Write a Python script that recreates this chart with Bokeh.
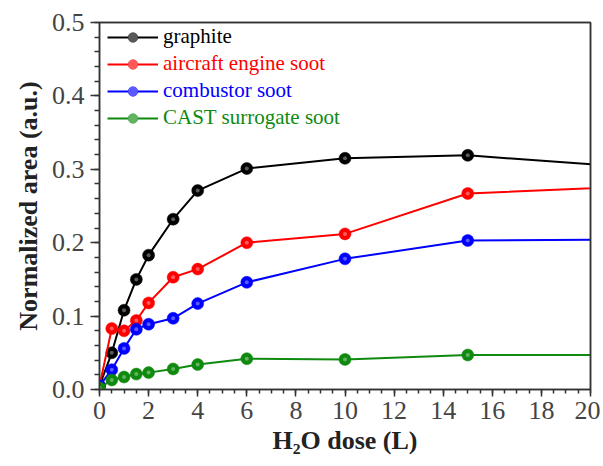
from bokeh.plotting import figure
from bokeh.models import (Range1d, Legend, LegendItem, PrintfTickFormatter, LinearAxis,
                          SingleIntervalTicker, Title)
from bokeh.embed import file_html
from bokeh.resources import INLINE

# H2O dose (L); the last point lies beyond the visible axis range (line runs off-frame)
dose = [0, 0.5, 1, 1.5, 2, 3, 4, 6, 10, 15, 30]
graphite = [0.005, 0.050, 0.108, 0.150, 0.183, 0.232, 0.271, 0.301, 0.315, 0.319, 0.283]
aircraft = [0.005, 0.083, 0.080, 0.094, 0.118, 0.153, 0.164, 0.200, 0.212, 0.267, 0.288]
combustor = [0.005, 0.027, 0.056, 0.082, 0.089, 0.097, 0.117, 0.146, 0.178, 0.203, 0.206]
cast = [0.002, 0.013, 0.017, 0.021, 0.023, 0.028, 0.034, 0.042, 0.041, 0.047, 0.047]

names = ["graphite", "aircraft engine soot", "combustor soot", "CAST surrogate soot"]
colors = ["#000000", "#ff0000", "#0000ff", "#0f8a0f"]
series = [graphite, aircraft, combustor, cast]
x_title = "H₂O dose (L)"
y_title = "Normalized area (a.u.)"

FONT = "Liberation Serif"
AXC = "#333333"

p = figure(width=600, height=466, output_backend="svg", toolbar_location=None,
           x_range=Range1d(0, 20), y_range=Range1d(0, 0.5),
           min_border_left=99, min_border_right=10, min_border_top=22, min_border_bottom=77)
p.xgrid.visible = False
p.ygrid.visible = False
p.outline_line_color = AXC
p.outline_line_width = 1.5
p.background_fill_color = "white"
p.border_fill_color = "white"

renderer_sets = []
for name, col, ys in zip(names, colors, series):
    r1 = p.line(dose, ys, line_color=col, line_width=2)
    r2 = p.scatter(dose, ys, size=12, fill_color=col, line_color=col, line_alpha=0.5)
    r3 = p.scatter(dose, ys, size=4, fill_color="white", fill_alpha=0.35, line_alpha=0)
    renderer_sets.append([r1, r2, r3])

# one legend per series so each label gets its own colour
legend_bottoms = [340, 313, 286, 259]
for name, col, rs, yb in zip(names, colors, renderer_sets, legend_bottoms):
    lg = Legend(items=[LegendItem(label=name, renderers=rs)], location=(8, yb))
    lg.background_fill_alpha = 0
    lg.border_line_alpha = 0
    lg.label_text_font = FONT
    lg.label_text_font_size = "21px"
    lg.label_text_color = col
    lg.glyph_width = 51
    lg.glyph_height = 24
    lg.label_height = 24
    lg.padding = 0
    lg.margin = 0
    lg.spacing = 0
    lg.label_standoff = 5
    p.add_layout(lg)

# top and right frame axes: plain lines, no ticks, no visible labels
for side in ("above", "right"):
    ax = LinearAxis(major_tick_out=0, major_tick_in=0, minor_tick_out=0, minor_tick_in=0,
                    axis_line_color=AXC, axis_line_width=1.5,
                    major_label_text_font=FONT, major_label_text_font_size="1px",
                    major_label_text_alpha=0, major_label_standoff=0)
    if side == "above":
        ax.ticker = SingleIntervalTicker(interval=2, num_minor_ticks=4)
    else:
        ax.ticker = SingleIntervalTicker(interval=0.1, num_minor_ticks=5)
    p.add_layout(ax, side)

xa = p.below[0]
ya = p.left[0]
xa.ticker.desired_num_ticks = 10
xa.ticker.num_minor_ticks = 4
ya.ticker.desired_num_ticks = 6
ya.ticker.num_minor_ticks = 5
ya.formatter = PrintfTickFormatter(format="%.1f")

for ax in (xa, ya):
    ax.major_label_text_font = FONT
    ax.major_label_text_font_size = "26px"
    ax.axis_line_color = AXC
    ax.axis_line_width = 1.5
    ax.major_tick_line_color = AXC
    ax.minor_tick_line_color = AXC
    ax.major_tick_line_width = 1.5
    ax.minor_tick_line_width = 1.5
    ax.major_tick_in = 0
    ax.minor_tick_in = 0

xa.major_tick_out = 7
xa.minor_tick_out = 4
ya.major_tick_out = 9
ya.minor_tick_out = 5
xa.major_label_standoff = 5
ya.major_label_standoff = 6

# axis titles as separate Title annotations
xt = Title(text=x_title, align="center", text_font=FONT, text_font_size="26px",
           text_font_style="bold", text_color="#222222", standoff=5)
yt = Title(text=y_title, align="center", text_font=FONT, text_font_size="26px",
           text_font_style="bold", text_color="#222222", standoff=11)
p.add_layout(xt, "below")
p.add_layout(yt, "left")

open("out.html", "w").write(file_html(p, INLINE))
